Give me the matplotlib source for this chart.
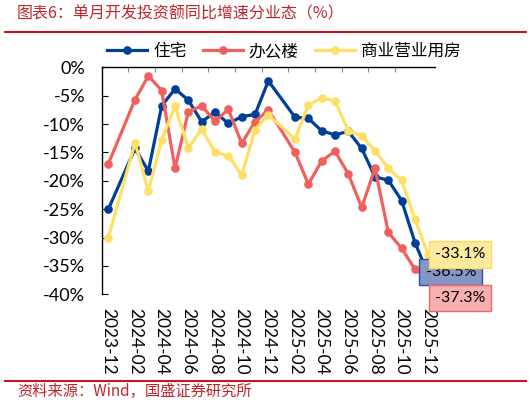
import matplotlib
matplotlib.use("Agg")
import matplotlib.pyplot as plt
from matplotlib.lines import Line2D
from matplotlib.ticker import FixedLocator, FuncFormatter

plt.rcParams['axes.unicode_minus'] = False

# ---------------- data ----------------
dates = ['2023-12',
         '2024-02', '2024-03', '2024-04', '2024-05', '2024-06', '2024-07',
         '2024-08', '2024-09', '2024-10', '2024-11', '2024-12',
         '2025-02', '2025-03', '2025-04', '2025-05', '2025-06', '2025-07',
         '2025-08', '2025-09', '2025-10', '2025-11', '2025-12']
residential = [-25.0, -14.3, -18.3, -6.8, -3.8, -5.8, -9.6, -7.9, -9.9, -8.7, -8.3, -2.4,
               -8.8, -9.0, -11.2, -11.9, -11.3, -14.3, -19.3, -19.9, -23.5, -30.9, -36.5]
office = [-17.0, -5.7, -1.5, -4.1, -17.8, -7.8, -6.8, -9.5, -7.4, -13.4, -9.6, -7.5,
          -15.0, -20.6, -16.5, -14.8, -18.8, -24.7, -17.8, -29.1, -31.9, -35.6, -37.3]
commercial = [-30.0, -13.3, -21.8, -12.8, -6.8, -14.2, -10.9, -14.9, -15.6, -19.0, -11.0, -8.4,
              -12.6, -6.7, -5.4, -5.9, -11.2, -12.1, -14.7, -17.8, -19.9, -26.8, -33.1]
series_names = ['住宅', '办公楼', '商业营业用房']
tick_labels = ['2023-12', '2024-02', '2024-04', '2024-06', '2024-08', '2024-10', '2024-12',
               '2025-02', '2025-04', '2025-06', '2025-08', '2025-10', '2025-12']
title = '图表6：单月开发投资额同比增速分业态（%）'
source = '资料来源：Wind，国盛证券研究所'

# ---------------- helpers ----------------
def month_index(s):
    y, m = s.split('-')
    return int(y) * 12 + int(m)

base = month_index(dates[0])
xs = [month_index(d) - base for d in dates]
tick_pos = [month_index(t) - base for t in tick_labels]

colors = ['#003F98', '#F0605E', '#FFE066']
box_fc = ['#8595C7', '#F7AFAF', '#FFEA9E']
box_ec = ['#2F4E9E', '#F06A6A', '#FFD966']

CJK = ['Noto Sans CJK SC', 'DejaVu Sans']
NUM = ['Lato', 'DejaVu Sans']

W, H = 531, 405
fig = plt.figure(figsize=(W / 100, H / 100), dpi=100)
fig.patch.set_facecolor('white')

left, right, top, bottom = 101.7, 435.0, 67.3, 294.3
ax = fig.add_axes([left / W, 1 - bottom / H, (right - left) / W, (bottom - top) / H])

series = [residential, office, commercial]
handles = []
for vals, c, name in zip(series, colors, series_names):
    ln, = ax.plot(xs, vals, color=c, lw=2.3, marker='o', ms=6.2,
                  markeredgewidth=0, label=name, solid_joinstyle='round')
    handles.append(ln)

ax.set_xlim(-0.5, 24.5)
ax.set_ylim(-40, 0)

for s in ['right', 'bottom']:
    ax.spines[s].set_visible(False)
for s in ['left', 'top']:
    ax.spines[s].set_color('#000000')
    ax.spines[s].set_linewidth(1.0)

ax.xaxis.set_major_locator(FixedLocator(tick_pos))
ax.set_xticklabels(tick_labels, rotation=-90, fontsize=12.5, family=NUM)
ax.xaxis.set_minor_locator(FixedLocator([p - 0.5 for p in tick_pos[:-1]] ))
ax.tick_params(axis='x', which='major', length=0, pad=10, bottom=True, top=False)
ax.tick_params(axis='x', which='minor', length=3.5, width=0.8, color='#888888',
               direction='in', top=True, bottom=False)

ax.yaxis.set_major_locator(FixedLocator(list(range(0, -41, -5))))
ax.yaxis.set_major_formatter(FuncFormatter(lambda v, p: f"{int(round(v))}%"))
ax.tick_params(axis='y', which='major', direction='in', length=4.5, width=0.8,
               pad=12, labelsize=13)
for lab in ax.get_yticklabels():
    lab.set_family(NUM)

# end-value annotations
ann_offsets = [(-2, 1.5), (4.5, -14), (4.5, 0.5)]
order = [0, 2, 1]
for i in order:
    vals = series[i]
    ax.annotate(f"{vals[-1]:.1f}%", xy=(xs[-1], vals[-1]), xytext=ann_offsets[i],
                textcoords='offset points', ha='left', va='center', fontsize=11.5,
                family=NUM, color='black', zorder=10 + i,
                bbox=dict(boxstyle='square,pad=0.38', fc=box_fc[i], ec=box_ec[i], lw=1.0),
                annotation_clip=False)

# legend
fig.legend(handles=handles, labels=series_names, loc='center', ncol=3,
           bbox_to_anchor=(284 / W, 1 - 51.5 / H), frameon=False,
           prop={'family': CJK, 'size': 12}, handlelength=2.4,
           handletextpad=0.35, columnspacing=1.0)

# title & source
fig.text(17 / W, 1 - 14 / H, title, fontsize=11.5, color='#C0242C',
         family=CJK, ha='left', va='center')
fig.text(17 / W, 1 - 391 / H, source, fontsize=11, color='#C0242C',
         family=CJK, ha='left', va='center')
fig.add_artist(Line2D([5 / W, 526 / W], [1 - 32.3 / H, 1 - 32.3 / H],
                      color='#C8141E', lw=1.5, transform=fig.transFigure))
fig.add_artist(Line2D([5 / W, 526 / W], [1 - 380.5 / H, 1 - 380.5 / H],
                      color='#C8141E', lw=1.5, transform=fig.transFigure))

fig.savefig('out.png', dpi=100, facecolor='white')
